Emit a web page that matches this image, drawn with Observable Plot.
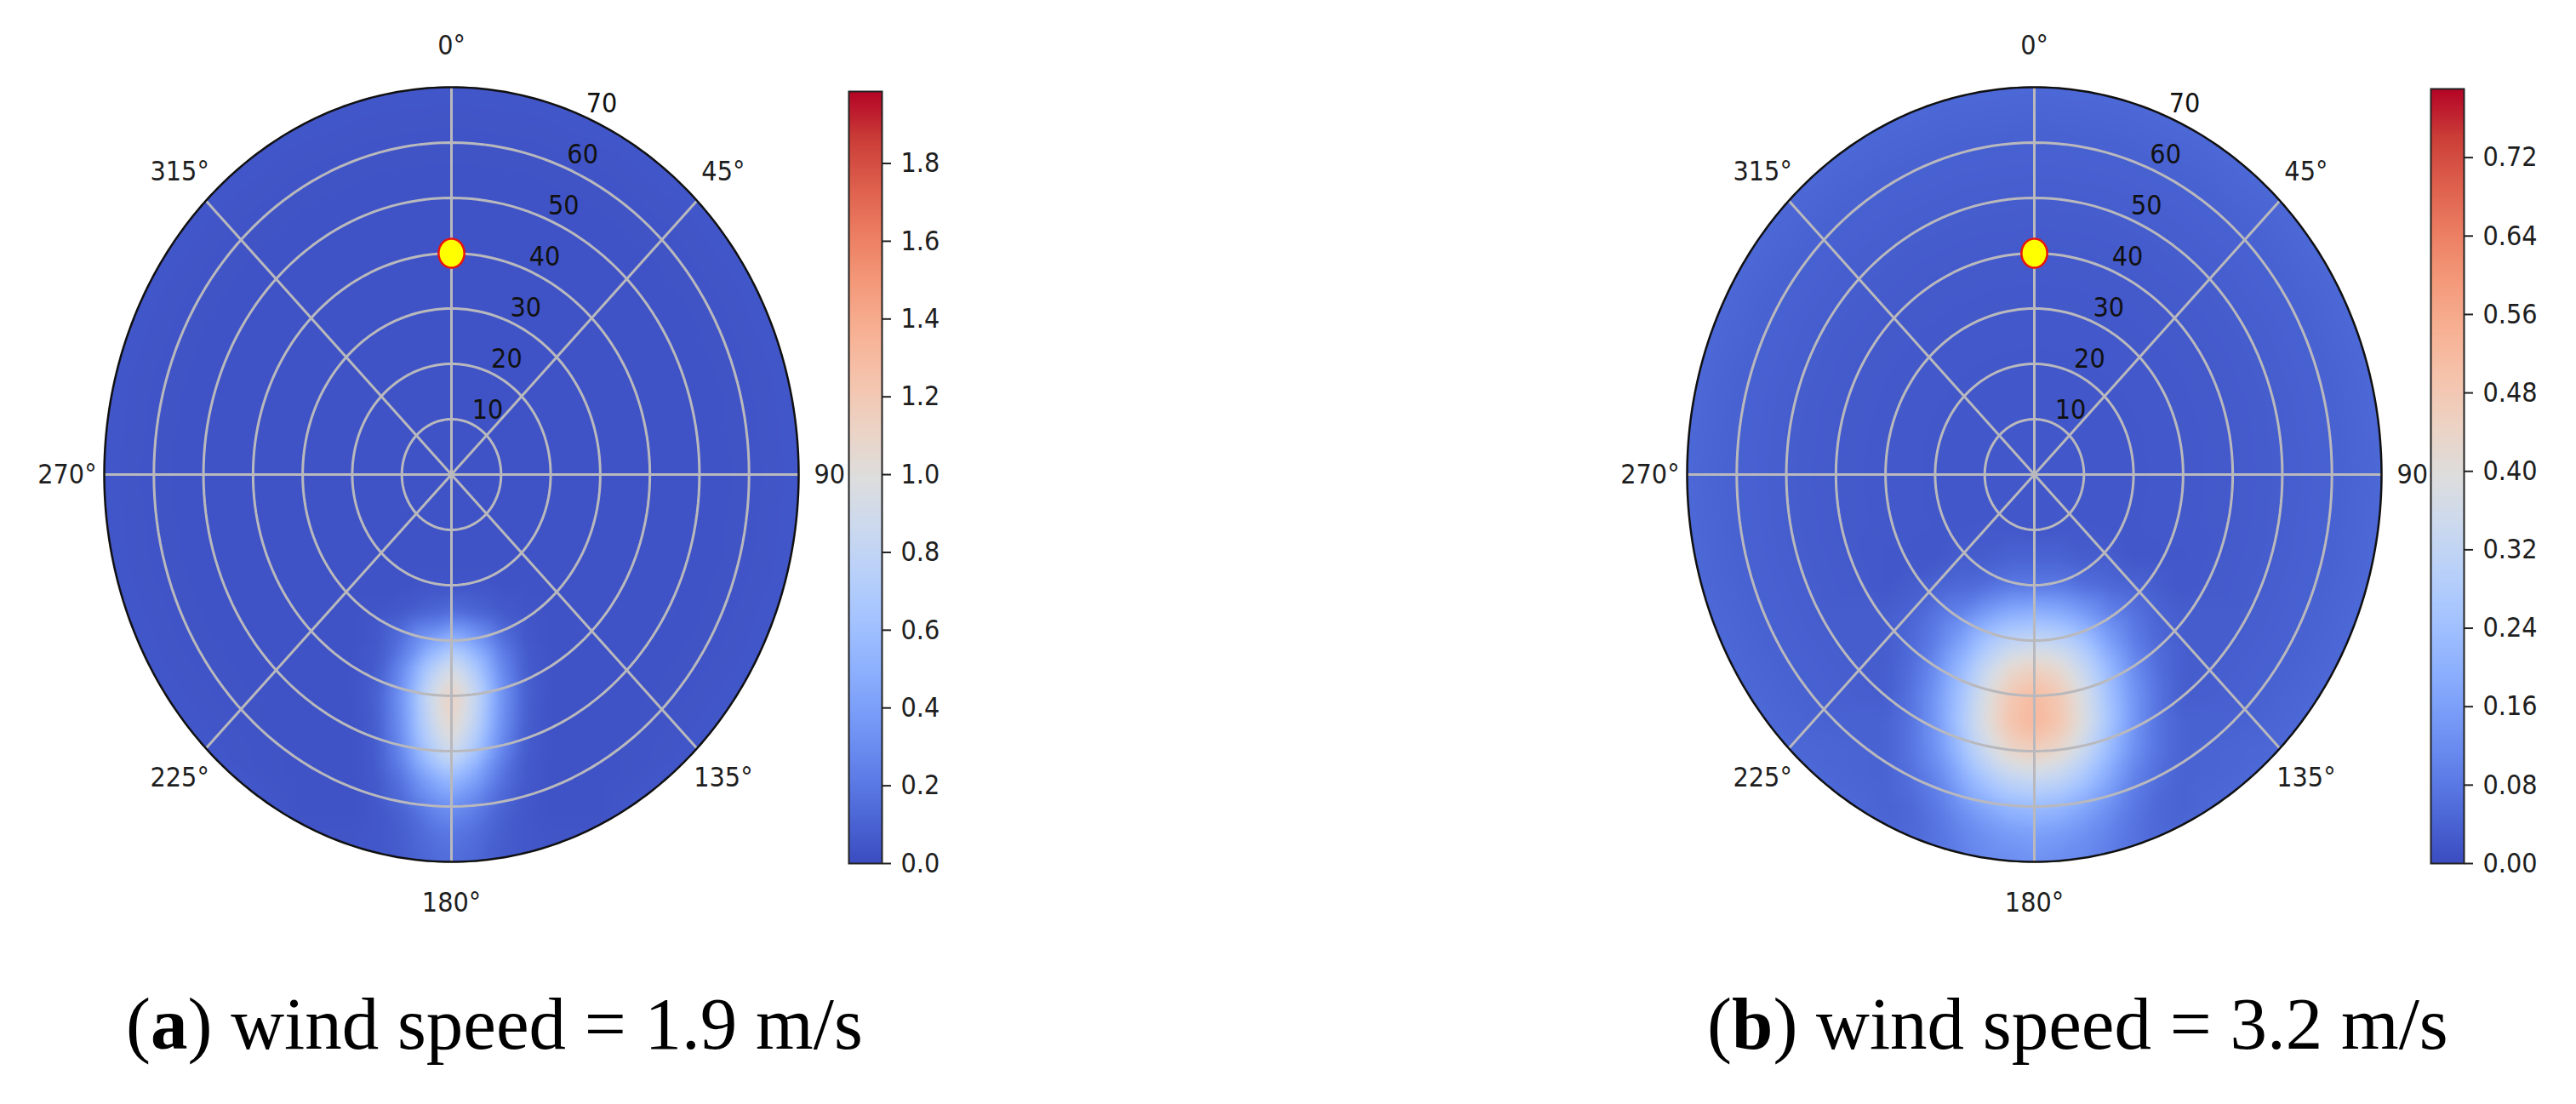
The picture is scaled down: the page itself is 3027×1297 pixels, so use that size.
<!DOCTYPE html>
<html><head><meta charset="utf-8">
<script src="https://cdn.jsdelivr.net/npm/d3@7"></script>
<script src="https://cdn.jsdelivr.net/npm/@observablehq/plot@0.6"></script>
<style>
html,body{margin:0;padding:0;background:#fff;}
#root{position:relative;width:3027px;height:1297px;overflow:hidden;background:#fff;}
.abs{position:absolute;}
.cap{position:absolute;font-family:"Liberation Serif","Times New Roman",serif;font-size:87px;line-height:87px;color:#000;white-space:nowrap;}
</style></head><body><div id="root"></div>
<script>
// ---------- data ----------
const angleTicks = [0, 45, 135, 180, 225, 270, 315];
const sideTick = [90];            // drawn as "90" (its degree sign is hidden by the colour bar)
const ringTicks = [10, 20, 30, 40, 50, 60, 70];
const gridRings = [10, 20, 30, 40, 50, 60];
const spokeAngles = [0, 45, 90, 135];
const rMax = 70;
const source = [{angle: 0, r: 40}];

// concentration samples (x across, y along the 0deg axis)
const gridX = [-30, -25, -20, -15, -10, -5, 0, 5, 10, 15, 20, 25, 30];
const gridY = [-15, -20, -25, -30, -35, -40, -45, -50, -55, -60, -65, -70];
const plumeA = [
  [.03,.03,.03,.03,.03,.03,.03,.03,.03,.03,.03,.03,.03],
  [.03,.03,.03,.03,.03,.04,.04,.04,.03,.03,.03,.03,.03],
  [.03,.03,.03,.04,.06,.11,.15,.11,.06,.04,.03,.03,.03],
  [.03,.03,.03,.05,.17,.39,.55,.39,.17,.05,.03,.03,.03],
  [.03,.03,.03,.07,.29,.67,.95,.67,.29,.07,.03,.03,.03],
  [.03,.03,.03,.09,.35,.83,1.17,.83,.35,.09,.03,.03,.03],
  [.03,.03,.03,.08,.33,.78,1.10,.78,.33,.08,.03,.03,.03],
  [.03,.03,.03,.07,.28,.65,.92,.65,.28,.07,.03,.03,.03],
  [.03,.03,.03,.06,.18,.41,.58,.41,.18,.06,.03,.03,.03],
  [.03,.03,.03,.05,.11,.24,.33,.24,.11,.05,.03,.03,.03],
  [.04,.04,.04,.05,.08,.15,.20,.15,.08,.05,.04,.04,.04],
  [.04,.04,.04,.05,.07,.12,.15,.12,.07,.05,.04,.04,.04]
];
const plumeB = [
  [.02,.02,.02,.03,.03,.04,.04,.04,.03,.03,.02,.02,.02],
  [.02,.03,.04,.05,.06,.08,.08,.08,.06,.05,.04,.03,.02],
  [.03,.04,.07,.10,.15,.19,.20,.19,.15,.10,.07,.04,.03],
  [.03,.05,.09,.16,.25,.31,.33,.31,.25,.16,.09,.05,.03],
  [.03,.06,.12,.22,.33,.42,.45,.42,.33,.22,.12,.06,.03],
  [.03,.07,.14,.25,.38,.48,.52,.48,.38,.25,.14,.07,.03],
  [.04,.07,.14,.26,.39,.49,.53,.49,.39,.26,.14,.07,.04],
  [.04,.07,.13,.23,.34,.43,.46,.43,.34,.23,.13,.07,.04],
  [.04,.06,.10,.18,.26,.32,.34,.32,.26,.18,.10,.06,.04],
  [.04,.05,.08,.13,.18,.22,.23,.22,.18,.13,.08,.05,.04],
  [.05,.05,.07,.10,.13,.15,.16,.15,.13,.10,.07,.05,.05],
  [.05,.06,.07,.09,.11,.12,.13,.12,.11,.09,.07,.06,.05]
];
const bgRadii = [0, 10, 20, 30, 40, 50, 60, 70, 80];
const bgAngles = [0,15,30,45,60,75,90,105,120,135,150,165,180,195,210,225,240,255,270,285,300,315,330,345];
const bgA = [0.03, 0.03, 0.03, 0.03, 0.03, 0.03, 0.035, 0.045, 0.045];
const bgB = [0.02, 0.02, 0.02, 0.022, 0.025, 0.03, 0.037, 0.048, 0.048];

const maxA = 1.985, maxB = 0.79;
const ticksA = [0, 0.2, 0.4, 0.6, 0.8, 1.0, 1.2, 1.4, 1.6, 1.8];
const ticksB = [0, 0.08, 0.16, 0.24, 0.32, 0.40, 0.48, 0.56, 0.64, 0.72];

const coolwarmColors = ["#3b4cc0","#4d68d7","#6282ea","#779af7","#8db0fe","#a3c2ff","#b8d0f9","#ccd9ee","#dddddd",
  "#ecd3c5","#f5c4ad","#f7b194","#f49a7b","#ec7f63","#de604d","#cb3e38","#b40426"];

// ---------- helpers ----------
const coolwarm = d3.piecewise(d3.interpolateRgb, coolwarmColors);
const FONT = '"DejaVu Sans Condensed", "DejaVu Sans", sans-serif';
const rad = d => d * Math.PI / 180;
const labelR = rMax * 1.107;

function samples(plume, bg) {
  const out = [];
  gridY.forEach((y, i) => gridX.forEach((x, j) => out.push({x, y, v: plume[i][j]})));
  bgRadii.forEach((r, k) => bgAngles.forEach(a => {
    if (r === 0 && a !== 0) return;
    const x = r * Math.sin(rad(a)), y = r * Math.cos(rad(a));
    if (Math.abs(x) <= 32 && y <= -13 && y >= -72) return;
    out.push({x, y, v: bg[k]});
  }));
  return out;
}

const ellipseSymbol = {
  draw(context, size) {
    const r = Math.sqrt(size / Math.PI), rx = r * 0.89, ry = r;
    for (let i = 0; i <= 60; i++) {
      const t = i / 60 * 2 * Math.PI;
      const px = rx * Math.cos(t), py = ry * Math.sin(t);
      if (i === 0) context.moveTo(px, py); else context.lineTo(px, py);
    }
    context.closePath();
  }
};

function polar(panel) {
  const W = panel.width, H = 1100;
  const mL = 122, mT = 102, mB = 88, mR = W - mL - 816;
  const ringPts = [];
  for (const r of gridRings) for (let a = 0; a <= 360; a += 2) ringPts.push({r, a});
  const spinePts = d3.range(0, 361, 1).map(a => ({r: rMax, a}));
  const px = d => d.r * Math.sin(rad(d.a)), py = d => d.r * Math.cos(rad(d.a));
  const plot = Plot.plot({
    width: W, height: H, marginLeft: mL, marginRight: mR, marginTop: mT, marginBottom: mB,
    x: {domain: [-rMax, rMax], axis: null},
    y: {domain: [-rMax, rMax], axis: null},
    color: {type: "linear", domain: [0, panel.max], interpolate: coolwarm, clamp: true},
    style: {background: "transparent", fontFamily: FONT, fontStretch: "condensed", fontSize: "32px", overflow: "visible"},
    marks: [
      Plot.raster(samples(panel.plume, panel.bg), {
        x: "x", y: "y", fill: "v", x1: -rMax, x2: rMax, y1: -rMax, y2: rMax,
        interpolate: "barycentric", blur: 6
      }),
      Plot.line(ringPts, {x: px, y: py, z: "r", stroke: "#b9b9bd", strokeWidth: 3}),
      Plot.link(spokeAngles, {
        x1: a => rMax * Math.sin(rad(a)), y1: a => rMax * Math.cos(rad(a)),
        x2: a => -rMax * Math.sin(rad(a)), y2: a => -rMax * Math.cos(rad(a)),
        stroke: "#b9b9bd", strokeWidth: 3
      }),
      Plot.line(spinePts, {x: px, y: py, stroke: "#111", strokeWidth: 2.5}),
      Plot.dot(source, {
        x: d => d.r * Math.sin(rad(d.angle)), y: d => d.r * Math.cos(rad(d.angle)),
        r: 17, fill: "#ffff00", stroke: "#e8140c", strokeWidth: 2.5, symbol: ellipseSymbol
      }),
      Plot.text(angleTicks, {
        x: a => labelR * Math.sin(rad(a)), y: a => labelR * Math.cos(rad(a)),
        text: a => `${a}°`, fill: "#1e1e1e", textAnchor: "middle", lineAnchor: "middle"
      }),
      Plot.text(sideTick, {
        x: a => labelR * Math.sin(rad(a)), y: a => labelR * Math.cos(rad(a)),
        text: a => String(a), fill: "#1e1e1e", textAnchor: "end", lineAnchor: "middle", dx: 11
      }),
      Plot.text(ringTicks, {
        x: r => r * Math.sin(rad(22.5)), y: r => r * Math.cos(rad(22.5)),
        text: r => String(r), fill: "#111", textAnchor: "start", lineAnchor: "bottom", dx: 2, dy: -5
      })
    ]
  });
  // clip the field to the polar disk
  const sx = plot.scale("x"), sy = plot.scale("y");
  const cx = sx.apply(0), cy = sy.apply(0);
  const rx = sx.apply(rMax) - cx, ry = cy - sy.apply(rMax);
  const ns = "http://www.w3.org/2000/svg";
  const defs = document.createElementNS(ns, "defs");
  const cp = document.createElementNS(ns, "clipPath");
  cp.setAttribute("id", panel.id);
  const el = document.createElementNS(ns, "ellipse");
  el.setAttribute("cx", cx); el.setAttribute("cy", cy);
  el.setAttribute("rx", rx); el.setAttribute("ry", ry);
  cp.appendChild(el); defs.appendChild(cp);
  plot.insertBefore(defs, plot.firstChild);
  const rg = plot.querySelector('g[aria-label="raster"]');
  if (rg) rg.setAttribute("clip-path", `url(#${panel.id})`);
  return plot;
}

function colorbar(panel) {
  const W = panel.cbWidth, H = 1100;
  return Plot.plot({
    width: W, height: H, marginLeft: 0, marginRight: W - 39, marginTop: panel.cbTop, marginBottom: H - 1014,
    x: {domain: [0, 1], axis: null},
    y: {domain: [0, panel.max], axis: null},
    color: {type: "linear", domain: [0, panel.max], interpolate: coolwarm, clamp: true},
    style: {background: "transparent", fontFamily: FONT, fontStretch: "condensed", fontSize: "32px", overflow: "visible"},
    marks: [
      Plot.raster({fill: (x, y) => y, x1: 0, x2: 1, y1: 0, y2: panel.max, pixelSize: 1}),
      Plot.frame({stroke: "#222", strokeWidth: 2}),
      Plot.axisY(panel.ticks, {anchor: "right", tickSize: 10, tickPadding: 12, tickFormat: panel.fmt,
        label: null, stroke: "#222", strokeWidth: 2, fill: "#1e1e1e"})
    ]
  });
}

function place(node, left, top) {
  const d = document.createElement("div");
  d.className = "abs";
  d.style.left = left + "px"; d.style.top = top + "px";
  d.appendChild(node);
  document.getElementById("root").appendChild(d);
}

const panels = [
  {id: "clipA", plume: plumeA, bg: bgA, max: maxA, ticks: ticksA, fmt: d3.format(".1f"),
   left: 0, width: 997, cbLeft: 997, cbWidth: 160, cbTop: 107},
  {id: "clipB", plume: plumeB, bg: bgB, max: maxB, ticks: ticksB, fmt: d3.format(".2f"),
   left: 1860, width: 996, cbLeft: 2856, cbWidth: 171, cbTop: 104}
];
for (const p of panels) {
  place(polar(p), p.left, 0);
  place(colorbar(p), p.cbLeft, 0);
}

const captions = [
  {letter: "a", text: " wind speed = 1.9 m/s", left: 148},
  {letter: "b", text: " wind speed = 3.2 m/s", left: 2006}
];
for (const c of captions) {
  const d = document.createElement("div");
  d.className = "cap";
  d.style.left = c.left + "px"; d.style.top = "1159px";
  d.innerHTML = `(<b>${c.letter}</b>)${c.text}`;
  document.getElementById("root").appendChild(d);
}
</script></body></html>
